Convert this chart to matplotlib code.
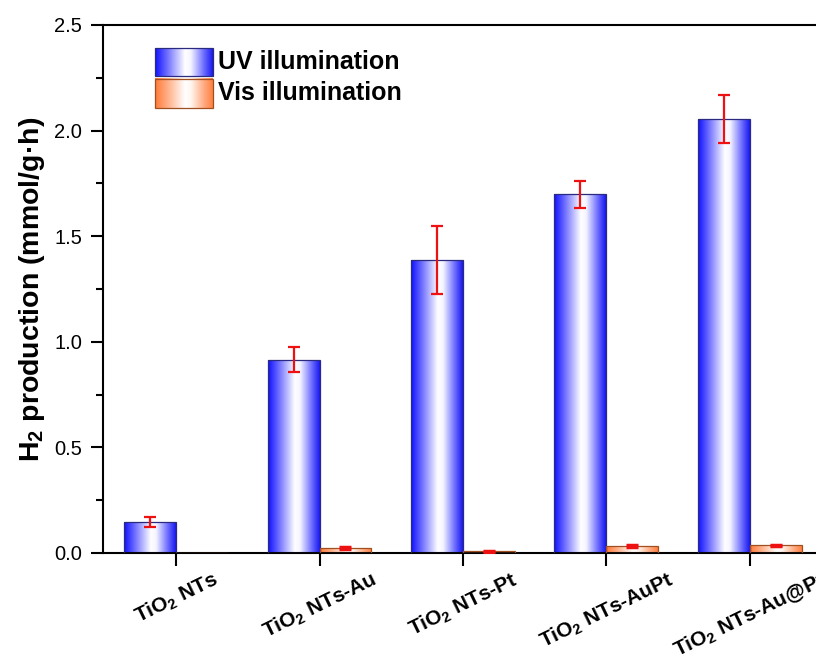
import numpy as np
import matplotlib
matplotlib.use('Agg')
import matplotlib.pyplot as plt
from matplotlib.colors import LinearSegmentedColormap
from matplotlib.ticker import MultipleLocator

plt.rcParams['font.family'] = ['Liberation Sans', 'DejaVu Sans']
plt.rcParams['mathtext.fontset'] = 'custom'
plt.rcParams['mathtext.rm'] = 'Liberation Sans'
plt.rcParams['mathtext.bf'] = 'Liberation Sans:bold'

# data
samples = ['TiO$_\\mathbf{2}$ NTs', 'TiO$_\\mathbf{2}$ NTs-Au', 'TiO$_\\mathbf{2}$ NTs-Pt',
           'TiO$_\\mathbf{2}$ NTs-AuPt', 'TiO$_\\mathbf{2}$ NTs-Au@Pt']
uv = [0.147, 0.915, 1.387, 1.698, 2.055]
uv_err = [0.025, 0.06, 0.16, 0.065, 0.113]
vis = [0.0, 0.025, 0.008, 0.032, 0.037]
vis_err = [0.0, 0.004, 0.002, 0.005, 0.003]

blue_cm = LinearSegmentedColormap.from_list(
    'bl', [(0, '#1010ff'), (0.2, '#6a6aff'), (0.52, '#ffffff'), (0.62, '#f4f4ff'),
           (0.85, '#6a6aff'), (1, '#1818f0')])
orange_cm = LinearSegmentedColormap.from_list(
    'or', [(0, '#ff7a38'), (0.2, '#ffaa80'), (0.52, '#ffffff'), (0.62, '#fff6f0'),
           (0.85, '#ffaa80'), (1, '#ff8040')])
grad = np.linspace(0, 1, 256).reshape(1, -1)

fig = plt.figure(figsize=(8.16, 6.64), dpi=100)
ax = fig.add_axes([103/816, 1-553/664, 717/816, 528/664])

x = np.arange(1, len(samples)+1)
w = 0.362

def gradbars(xs, vals, cm, edge):
    bars = ax.bar(xs, vals, w, facecolor='none', edgecolor=edge, linewidth=0.9, zorder=3)
    for b in bars:
        if b.get_height() <= 0:
            continue
        x0, y0 = b.get_x(), b.get_y()
        im = ax.imshow(grad, cmap=cm, aspect='auto', interpolation='bicubic',
                       extent=[x0, x0+b.get_width(), y0, y0+b.get_height()], zorder=2)
        im.set_clip_path(b)
    return bars

gradbars(x - w/2, uv, blue_cm, '#2a2a80')
gradbars(x + w/2, vis, orange_cm, '#a05020')
ax.errorbar(x - w/2, uv, yerr=uv_err, fmt='none', ecolor='#ee1111', elinewidth=1.6,
            capsize=4.5, capthick=1.6, zorder=4)
ax.errorbar(x[1:] + w/2, vis[1:], yerr=vis_err[1:], fmt='none', ecolor='#ee1111',
            elinewidth=1.6, capsize=4.5, capthick=2.5, zorder=4)

ax.set_xticks(x)
ax.set_xticklabels(samples, rotation=26, fontsize=15, fontweight='bold', ha='center')
ax.yaxis.set_minor_locator(MultipleLocator(0.25))
ax.set_yticks([0, 0.5, 1.0, 1.5, 2.0, 2.5])
ax.set_yticklabels(['0.0', '0.5', '1.0', '1.5', '2.0', '2.5'], fontsize=14.5)
ax.tick_params(axis='y', which='major', direction='out', length=9, width=1.5, pad=6)
ax.tick_params(axis='y', which='minor', direction='out', length=5, width=1.5)
ax.tick_params(axis='x', which='major', direction='out', length=9, width=1.5, pad=2)
for s in ['left', 'bottom', 'top']:
    ax.spines[s].set_linewidth(1.5)
ax.spines['right'].set_visible(False)
ax.set_ylabel('H$_\\mathbf{2}$ production (mmol/g·h)', fontsize=20.5, fontweight='bold', labelpad=5)

# legend drawn with gradient swatches
leg = [('UV illumination', blue_cm, '#2a2a80', 0.903, 0.956),
       ('Vis illumination', orange_cm, '#a05020', 0.843, 0.898)]
for label, cm, edge, ya, yb in leg:
    ax.imshow(grad, cmap=cm, aspect='auto', interpolation='bicubic',
              extent=[0.0725, 0.153, ya, yb], transform=ax.transAxes, zorder=5)
    ax.add_patch(plt.Rectangle((0.0725, ya), 0.0805, yb-ya, transform=ax.transAxes,
                               facecolor='none', edgecolor=edge, lw=0.9, zorder=6))
    ax.text(0.161, (ya+yb)/2, label, transform=ax.transAxes, fontsize=18,
            fontweight='bold', va='center', ha='left')
ax.set_xlim(0.49, 5.49)
ax.set_ylim(0, 2.5)

fig.savefig('out.png', dpi=100)
